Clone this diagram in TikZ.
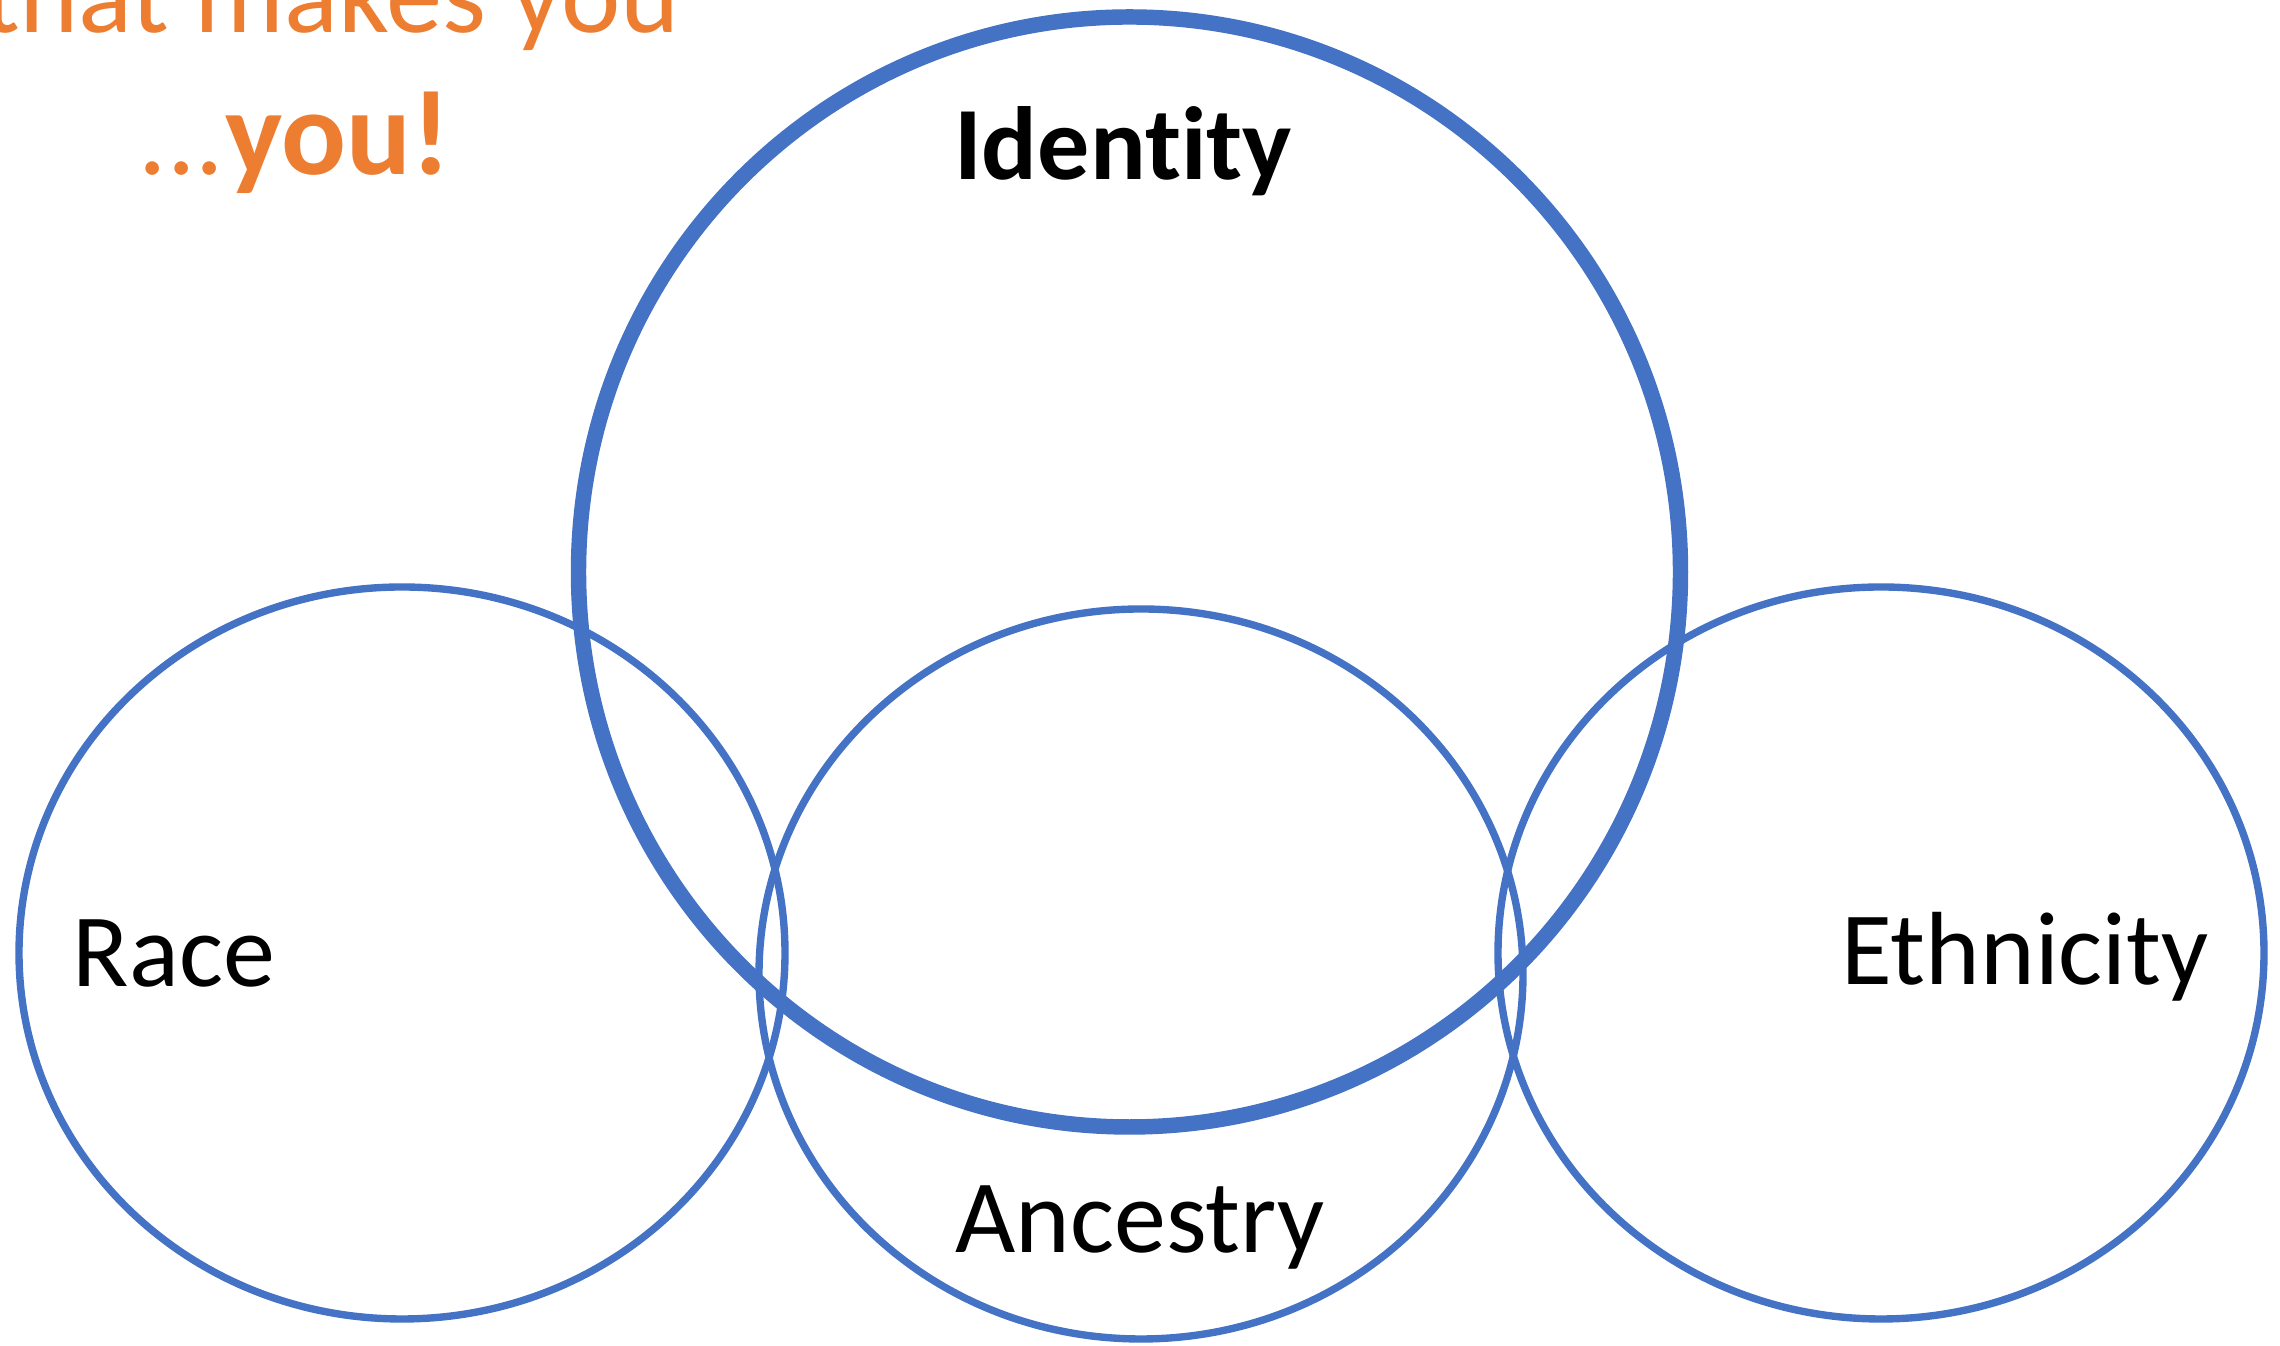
\documentclass[tikz,border=0pt]{standalone}
\usepackage{fontspec}
\setmainfont{Carlito}[Ligatures={NoCommon,NoRare}]
\usetikzlibrary{positioning,shapes.geometric}
\definecolor{OffBlue}{RGB}{68,114,196}
\definecolor{OffOrange}{RGB}{237,125,49}
\tikzset{
	ring/.style={ellipse,draw=OffBlue,line width=2.1pt,inner sep=0pt},
	word/.style={anchor=base,inner sep=0pt,font=\fontsize{29.6}{36}\selectfont},
	shout/.style={text=OffOrange,inner sep=0pt},
}

\begin{document}
\begin{tikzpicture}
	\useasboundingbox (0,0) rectangle (22.8,13.46);
	\clip (0,0) rectangle (22.8,13.46);
	% the three small circles
	\foreach \n/\x/\y/\w/\h in {race/4.02/3.93/7.66/7.32,ancestry/11.41/3.72/7.64/7.30,ethnicity/18.81/3.93/7.66/7.32}
	\node[ring,minimum width=\w cm,minimum height=\h cm] (\n) at (\x,\y) {};
	\node[ring,line width=4.4pt,minimum width=11.02cm,minimum height=11.1cm] (identity) at (11.295,7.74) {};
	% labels
	\node[word] (race-lbl) at (1.74,3.59) {Race};
	\node[word,font=\fontsize{29.6}{36}\selectfont\bfseries] (identity-lbl) at (11.23,11.66) {Identity};
	\node[word] (ancestry-lbl) at (11.40,0.93) {Ancestry};
	\node[word] (ethnicity-lbl) at (20.25,3.61) {Ethnicity};
	% orange heading, cut at the top
	\node[shout,anchor=base east,font=\fontsize{32}{38}\selectfont] (tagline) at (6.80,13.13) {that makes you};
	\node[shout,anchor=base west,font=\fontsize{32}{38}\selectfont] (dots) at (1.38,11.71) {...};
	\node[shout,anchor=base west,font=\fontsize{34.4}{41}\selectfont\bfseries] (you) at (dots.base east) {you!};
\end{tikzpicture}
\end{document}
